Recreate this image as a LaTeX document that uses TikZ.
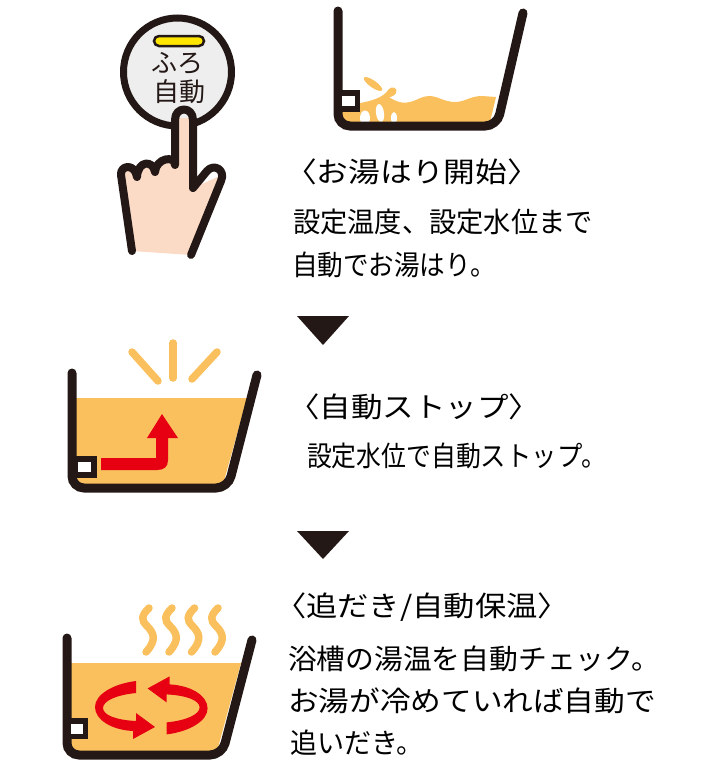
\documentclass[tikz,border=0pt]{standalone}
\usepackage{fontspec}
\usepackage{graphicx}
\newfontfamily\jpfont{Noto Sans CJK JP}
\definecolor{tubdark}{HTML}{231815}
\definecolor{wateryellow}{HTML}{F9C05D}
\definecolor{flowred}{HTML}{E60012}
\definecolor{skintone}{HTML}{FBDAC6}
\definecolor{lampyellow}{HTML}{FFE600}
\definecolor{buttongray}{HTML}{EEEEEE}
\newcommand{\fitline}[2]{\resizebox{#1}{\height}{#2}}
\tikzstyle{tubwall}=[draw=tubdark, line width=9pt, line cap=round, rounded corners=12pt]
\tikzstyle{water}=[fill=wateryellow, draw=none]
\tikzstyle{sensor}=[fill=white, draw=tubdark, line width=5.5pt]
\tikzstyle{ray}=[draw=wateryellow, line width=7.5pt, line cap=round]
\tikzstyle{downmark}=[fill=tubdark, draw=none]
\tikzstyle{caption}=[anchor=west, inner sep=0, outer sep=0, text=black, font=\jpfont\fontsize{28}{28}\selectfont]
\tikzstyle{buttontext}=[inner sep=0, outer sep=0, font=\jpfont\fontsize{26}{26}\selectfont, text=tubdark]
\newcommand{\swirlarrow}{%
  \fill[flowred] (136,681) .. controls (112,684) and (95,695) .. (95,707)
    .. controls (95,720) and (112,730) .. (133,731)
    -- (133,739) -- (155,727) -- (136,713) -- (136,721)
    .. controls (116,720) and (103,715) .. (103,708)
    .. controls (103,701) and (116,695) .. (136,693) -- cycle;}
\begin{document}
\begin{tikzpicture}[x=1pt, y=-1pt]
  \useasboundingbox (0,0) rectangle (720,780);
  % button and hand
  \draw[fill=buttongray, draw=tubdark, line width=7pt] (177.5,72) circle (54);
  \draw[fill=lampyellow, draw=tubdark, line width=2.5pt, rounded corners=5pt] (154,36) rectangle (204,46);
  \node[buttontext] (furo) at (177,63) {ふろ};
  \node[buttontext] (jido) at (179,92) {自動};
  \fill[skintone] (132,251) -- (120,170) -- (175,160) -- (175,118) -- (193,118) -- (193,188) -- (222,175) -- (191,255) -- cycle;
  \draw[draw=tubdark, line width=8pt, line cap=round, line join=round]
    (132,251) -- (121,175) .. controls (120,165) and (135,163) .. (137,177)
    .. controls (138,160) and (153,160) .. (155,172)
    .. controls (156,158) and (175,155) .. (175,165)
    -- (175,120) .. controls (175,106) and (193,106) .. (193,120)
    -- (193,188) -- (207,171) .. controls (214,163) and (226,170) .. (221,181)
    -- (191,255);
  % first tub
  \fill[water] (360,103) .. controls (372,101) and (384,97) .. (388,90)
    .. controls (391,85) and (399,88) .. (396,93)
    .. controls (394,97) and (389,97) .. (389,97)
    .. controls (396,102) and (404,104) .. (410,102)
    .. controls (418,100) and (422,96) .. (429,96)
    .. controls (438,96) and (444,102) .. (455,102)
    .. controls (465,102) and (470,96) .. (482,96)
    -- (496,97) -- (490,122) -- (342,122) -- (342,112) -- cycle;
  \fill[water, rotate around={-35:(373,84)}] (373,84) ellipse (11 and 3.5);
  \fill[white] (365,118) ellipse (5 and 7.5);
  \fill[white, rotate around={8:(380,113)}] (380,113) ellipse (4 and 9);
  \fill[white] (394,118) ellipse (3 and 6);
  \draw[tubwall] (338,11) -- (338,126) -- (497,126) -- (523,13);
  \draw[sensor] (339,93) rectangle (357.5,109);
  % second tub
  \fill[water] (72,398) -- (247,398) -- (222,488) -- (72,488) -- cycle;
  \draw[tubwall] (72,373) -- (72,488) -- (228,488) -- (257,375);
  \draw[sensor] (75,459) rectangle (94,475);
  \draw[ray] (132,352) -- (158,381);
  \draw[ray] (173,343) -- (173,378);
  \draw[ray] (217,352) -- (192,379);
  \fill[flowred] (101,458) -- (156,458) -- (156,438) -- (147,438) -- (162,414) -- (178,438) -- (168,438)
    -- (168,460) .. controls (168,467) and (164,470) .. (157,470) -- (101,470) -- cycle;
  % third tub
  \fill[water] (67,663) -- (241,663) -- (216,755) -- (67,755) -- cycle;
  \draw[tubwall] (67,638) -- (67,755) -- (222,755) -- (252,640);
  \draw[sensor] (68.5,721) rectangle (85.5,736.5);
  \foreach \steamx in {0,23,45.5,69} {
    \draw[ray, xshift=\steamx pt] (149,608) .. controls (141,616) and (141,620) .. (147,626)
      .. controls (154,633) and (157,640) .. (146,652);
  }
  \swirlarrow
  \begin{scope}[rotate around={180:(151.3,707.7)}]
    \swirlarrow
  \end{scope}
  % down marks
  \fill[downmark] (297,316) -- (349,316) -- (323,345) -- cycle;
  \fill[downmark] (297,531) -- (349,531) -- (323,559) -- cycle;
  % captions
  \node[caption] (startTitle) at (285,172) {\fitline{254pt}{〈お湯はり開始〉}};
  \node[caption] (startOne) at (293,222) {\fitline{300pt}{設定温度、設定水位まで}};
  \node[caption] (startTwo) at (292,265) {\fitline{204pt}{自動でお湯はり。}};
  \node[caption] (stopTitle) at (288,407) {\fitline{252pt}{〈自動ストップ〉}};
  \node[caption] (stopOne) at (307,456) {\fitline{174pt}{設定水位で自動}\fitline{126pt}{ストップ。}};
  \node[caption] (reheatTitle) at (275,607) {\fitline{294pt}{〈追だき/自動保温〉}};
  \node[caption] (reheatOne) at (288,659) {\fitline{372pt}{浴槽の湯温を自動チェック。}};
  \node[caption] (reheatTwo) at (288,701) {\fitline{368pt}{お湯が冷めていれば自動で}};
  \node[caption] (reheatThree) at (290,743) {\fitline{134pt}{追いだき。}};
\end{tikzpicture}
\end{document}
